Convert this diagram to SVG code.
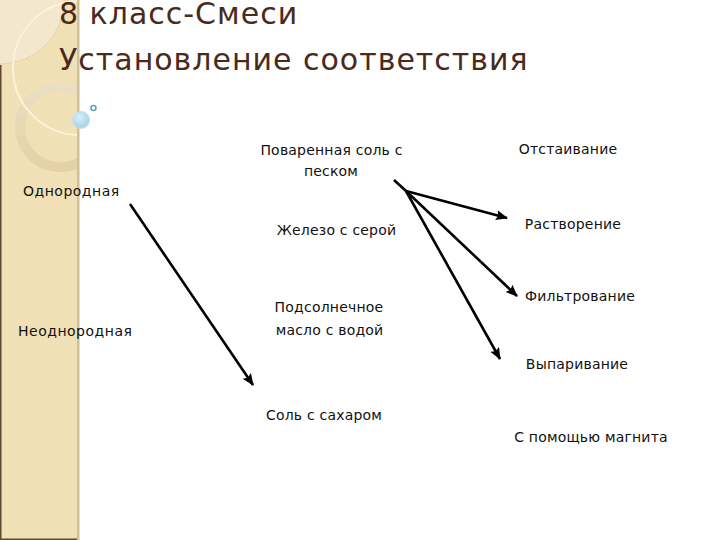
<svg xmlns="http://www.w3.org/2000/svg" width="720" height="540" viewBox="0 0 720 540">
<style>
text{font-family:"DejaVu Sans","Noto Sans",sans-serif;fill:#111;font-size:14px;letter-spacing:.2px}
.m{text-anchor:middle}
.w{letter-spacing:.5px}
.t{font-size:30px;fill:#4a2a1a;letter-spacing:1px}
.c line{stroke:#000;stroke-width:2.6;marker-end:url(#a)}
</style>
<defs>
<marker id="a" markerUnits="userSpaceOnUse" markerWidth="13" markerHeight="11" refX="11" refY="5.500" orient="auto"><path d="M0 .5L12 5.500L0 10.500L2 5.500Z" fill="#000"/></marker>
<clipPath id="p"><rect x="0" y="0" width="79" height="540"/></clipPath>
<pattern id="d" width="4" height="4" patternUnits="userSpaceOnUse"><rect width="4" height="4" fill="#f1e2ba"/><rect width="2" height="2" fill="#f0dfb3"/><rect x="2" y="2" width="2" height="2" fill="#f0dfb3"/></pattern>
<radialGradient id="b" cx=".4" cy=".35" r=".7"><stop offset="0" stop-color="#d8eef6"/><stop offset="1" stop-color="#9fd0e6"/></radialGradient>
<linearGradient id="r" x1="0" y1="0" x2="0" y2="1"><stop offset="0" stop-color="#ebdfc2"/><stop offset="1" stop-color="#e4d2a6"/></linearGradient>
</defs>
<rect width="720" height="540" fill="#fff"/>
<g id="sidebar">
<rect x="0" y="0" width="79" height="539" fill="url(#d)"/>
<g clip-path="url(#p)">
<circle cx="0" cy="0" r="64" fill="#f3e8ce" stroke="#e4d5b0"/>
<circle cx="60" cy="127" r="40" fill="none" stroke="url(#r)" stroke-width="10"/>
<circle cx="80" cy="68" r="67" fill="none" stroke="#fbf3d8" stroke-width="2"/>
</g>
<rect x="0" y="65" width="1.5" height="475" fill="#5d4a30"/>
<rect x="0" y="538.5" width="79" height="1.5" fill="#5d4a30"/>
<rect x="77" y="0" width="2.5" height="540" fill="#cfc09c"/>
<circle cx="81" cy="120" r="8.500" fill="url(#b)" stroke="#c4e3ef"/>
<circle cx="93.500" cy="108" r="2.500" fill="#fff" stroke="#5f9fb0" stroke-width="1.500"/>
</g>
<g id="title">
<text class="t" x="59" y="24">8 класс-Смеси</text>
<text class="t" x="59" y="70">Установление соответствия</text>
</g>
<g id="n1"><text class="w" x="23" y="196">Однородная</text></g>
<g id="n2"><text class="w" x="18" y="336">Неоднородная</text></g>
<g id="n3"><text class="m" x="331.500" y="155">Поваренная соль с</text><text class="m" x="331" y="176">песком</text></g>
<g id="n4"><text class="m" x="336.500" y="235">Железо с серой</text></g>
<g id="n5"><text class="m" x="329" y="312">Подсолнечное</text><text class="m" x="329.500" y="335">масло  с водой</text></g>
<g id="n6"><text class="m" x="324" y="420">Соль с сахаром</text></g>
<g id="n7"><text class="m" x="568" y="154">Отстаивание</text></g>
<g id="n8"><text class="m" x="573" y="229">Растворение</text></g>
<g id="n9"><text class="m" x="580" y="301">Фильтрование</text></g>
<g id="n10"><text class="m" x="577" y="369">Выпаривание</text></g>
<g id="n11"><text class="m" x="591" y="442">С помощью магнита</text></g>
<g id="connectors" class="c">
<line x1="130" y1="204" x2="253" y2="385"/>
<path d="M394 180L406 191" stroke="#000" stroke-width="2.600" fill="none"/>
<line x1="406" y1="191" x2="507" y2="218"/>
<line x1="406" y1="191" x2="517" y2="296"/>
<line x1="406" y1="191" x2="500" y2="359"/>
</g>
</svg>
